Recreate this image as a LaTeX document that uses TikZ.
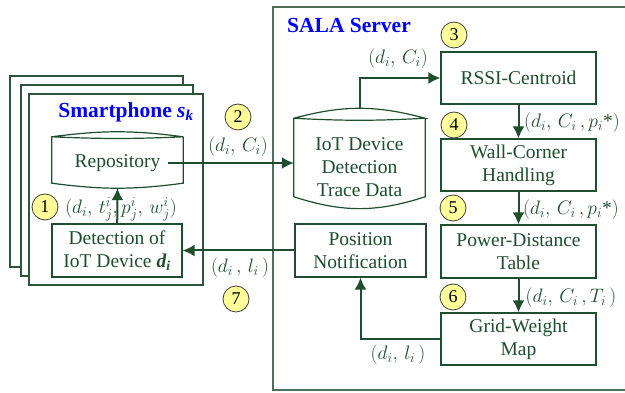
\RequirePackage{fix-cm}
\documentclass[tikz,border=0pt]{standalone}
\usepackage{fontspec}
\setmainfont{Liberation Serif}
\usepackage{xcolor}
\usepackage{tikz}
\usetikzlibrary{arrows.meta}
\usetikzlibrary{positioning}

\definecolor{darkgreen}{RGB}{30,78,45}
\definecolor{framegreen}{RGB}{45,85,58}
\definecolor{servergreen}{RGB}{80,110,90}
\definecolor{stepyellow}{RGB}{255,255,153}

% node, top raise, upper bend, lower bend, bottom bend
\newcommand{\drum}[5]{%
  \path ([yshift=#2]#1.north west) coordinate (#1-tl)
        ([yshift=#2]#1.north east) coordinate (#1-tr);
  \path [drumline] (#1-tl) to[bend left=#3] (#1-tr) to[bend left=#4] (#1-tl)
        -- (#1.south west) to[bend right=#5] (#1.south east) -- (#1-tr);}

\begin{document}
\begin{tikzpicture}[
        x=1pt,
        y=-1pt,
        font=\fontsize{19.5}{23}\selectfont,
        block/.style={
            rectangle,
            draw=darkgreen,
            line width=1.2pt,
            fill=white,
            text=darkgreen,
            align=center,
            inner sep=0pt,
            minimum width=155pt,
            minimum height=52pt
        },
        drum/.style={
            text=darkgreen,
            align=center,
            inner sep=0pt,
            minimum width=131pt
        },
        drumline/.style={
            draw=darkgreen,
            line width=1.2pt
        },
        phoneframe/.style={
            draw=framegreen,
            line width=1.2pt,
            fill=white
        },
        stepnum/.style={
            circle,
            draw=black!75,
            line width=0.8pt,
            fill=stepyellow,
            inner sep=0pt,
            minimum size=26pt,
            font=\fontsize{18}{18}\selectfont
        },
        flowlabel/.style={
            text=darkgreen,
            inner sep=0pt
        },
        titletext/.style={
            text=blue,
            font=\fontsize{21.5}{24}\selectfont\bfseries
        },
        line/.style={
            draw=darkgreen,
            line width=2pt,
            -{Latex[length=12pt,width=12pt]}
        },
        ]

        \useasboundingbox (0,0) rectangle (625,393);

        % smartphones
        \draw [phoneframe] (10,76) rectangle (183,267);
        \draw [phoneframe] (21,85) rectangle (193,276);
        \draw [phoneframe] (29,94) rectangle (203,285);
        \node [titletext] (phone-title) at (126,112) {Smartphone \textit{s}\textsubscript{\textit{k}}};

        % server
        \draw [draw=servergreen, line width=1.5pt] (273,7) rectangle (640,390);
        \node [titletext] (server-title) at (349,25) {SALA Server};

        \node [drum, minimum height=40pt] (repository) at (117.5,163) {Repository};
        \drum{repository}{6pt}{7.5}{2.5}{7.5}
        \node [block, minimum width=130pt, minimum height=53pt] (detection) at (117,250.5) {Detection of\\IoT Device \textit{\textbf{d}\textsubscript{\textbf{i}}}};

        \node [drum, minimum height=56pt] (trace-data) at (359.5,167) {IoT Device\\Detection\\Trace Data};
        \drum{trace-data}{19pt}{15}{3}{18}
        \node [block, minimum width=131pt, minimum height=53pt] (notification) at (360.5,250.5) {Position\\Notification};

        \node [block] (rssi-centroid) at (518.5,78) {RSSI-Centroid};
        \node [block] (wall-corner) at (518.5,165) {Wall-Corner\\Handling};
        \node [block, minimum height=53pt] (power-distance) at (518.5,251.5) {Power-Distance\\Table};
        \node [block] (grid-weight) at (518.5,339) {Grid-Weight\\Map};

        \node [stepnum] (step-1) at (45,207) {1};
        \node [stepnum] (step-2) at (238,117) {2};
        \node [stepnum] (step-3) at (454,35) {3};
        \node [stepnum] (step-4) at (454,125) {4};
        \node [stepnum] (step-5) at (453,208) {5};
        \node [stepnum] (step-6) at (453,297) {6};
        \node [stepnum] (step-7) at (236,299) {7};

        \node [flowlabel] (label-1) at (121,209) {$(d_i,\, t^i_j, p^i_j,\, w^i_j)$};
        \node [flowlabel] (label-2) at (238,147) {$(d_i,\, C_i)$};
        \node [flowlabel] (label-3) at (398,59) {$(d_i,\, C_i)$};
        \node [flowlabel] (label-4) at (572,123) {$(d_i,\, C_i\,, p_i$*$)$};
        \node [flowlabel] (label-5) at (571,210) {$(d_i,\, C_i\,, p_i$*$)$};
        \node [flowlabel] (label-6) at (571,298) {$(d_i,\, C_i\,, T_i\,)$};
        \node [flowlabel] (label-7) at (398,355) {$(d_i,\, l_i\,)$};
        \node [flowlabel] (label-8) at (240,268) {$(d_i\,,\, l_i\,)$};

        \path [line] (detection) -- ([yshift=-5pt]repository.south);
        \path [line] ([xshift=-15pt]repository.east) -- (repository.east -| trace-data.west);
        \path [line] ([yshift=29pt]trace-data.north) |- (rssi-centroid);
        \path [line] (rssi-centroid) -- (wall-corner);
        \path [line] (wall-corner) -- (power-distance);
        \path [line] (power-distance) -- (grid-weight);
        \path [line] (grid-weight) -| (notification);
        \path [line] (notification) -- (detection);
    \end{tikzpicture}
\end{document}
